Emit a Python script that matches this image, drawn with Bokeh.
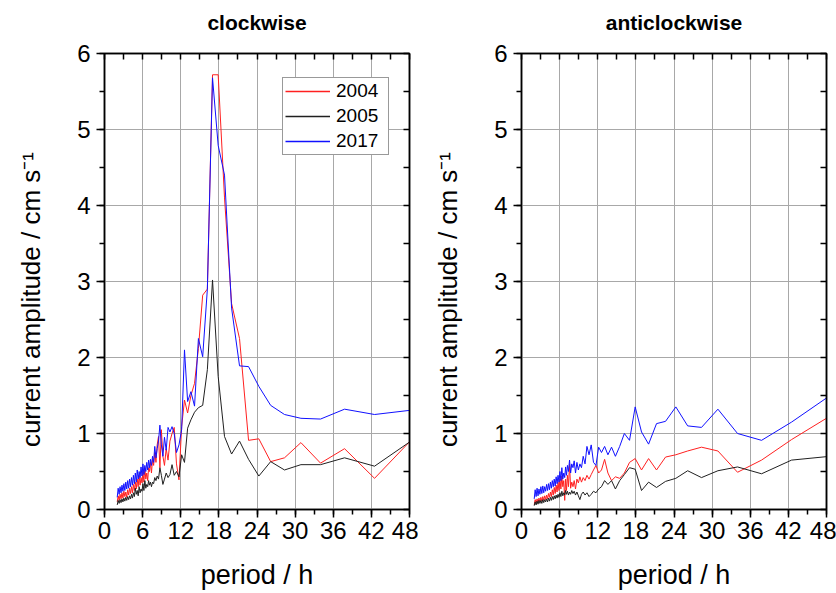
from bokeh.plotting import figure
from bokeh.models import (Range1d, LinearAxis, SingleIntervalTicker, FixedTicker,
                          Legend, LegendItem)
from bokeh.layouts import row
from bokeh.embed import file_html
from bokeh.resources import INLINE

# ---------------- data ----------------
period_dense = [2.0, 2.15, 2.3, 2.45, 2.6, 2.75, 2.9, 3.05, 3.2, 3.35,
                3.5, 3.65, 3.8, 3.95, 4.1, 4.25, 4.4, 4.55, 4.7, 4.85,
                5.0, 5.15, 5.3, 5.45, 5.6, 5.75, 5.9, 6.05, 6.2, 6.35,
                6.5, 6.65]
period_sparse = [6.8, 6.94, 7.08, 7.23, 7.39, 7.56, 7.73, 7.91, 8.1, 8.29,
                 8.5, 8.72, 8.95, 9.19, 9.44, 9.71, 10.0, 10.3, 10.63, 10.97,
                 11.33, 11.72, 12.14, 12.59, 13.08, 13.6, 14.17, 14.78, 15.45, 16.19,
                 17.0, 17.89, 18.89, 20.0, 21.25, 22.67, 24.29, 26.15, 28.33, 30.91,
                 34.0, 37.78, 42.5, 48.57]
period = period_dense + period_sparse

# clockwise
cw_2004 = [0.10, 0.18, 0.12, 0.20, 0.14, 0.22, 0.15, 0.24, 0.17, 0.23,
           0.16, 0.26, 0.19, 0.28, 0.21, 0.30, 0.22, 0.33, 0.25, 0.36,
           0.27, 0.40, 0.30, 0.45, 0.32, 0.42, 0.35, 0.50, 0.36, 0.55,
           0.40, 0.48] + \
          [0.38, 0.55, 0.50, 0.62, 0.48, 0.66, 0.58, 0.75, 0.62, 0.85,
           0.96, 0.55, 1.05, 0.70, 0.58, 0.80, 0.65, 0.90, 1.00, 1.08,
           0.60, 0.39, 1.09, 1.44, 1.27, 1.50, 1.66, 2.12, 2.82, 2.90,
           5.72, 5.72, 4.10, 2.71, 2.25, 0.91, 0.93, 0.63, 0.68, 0.88,
           0.61, 0.80, 0.41, 0.94]
cw_2005 = [0.06, 0.12, 0.08, 0.13, 0.09, 0.14, 0.10, 0.15, 0.11, 0.16,
           0.12, 0.17, 0.13, 0.18, 0.14, 0.20, 0.15, 0.22, 0.17, 0.28,
           0.20, 0.25, 0.18, 0.30, 0.22, 0.27, 0.24, 0.34, 0.25, 0.38,
           0.28, 0.33] + \
          [0.30, 0.38, 0.32, 0.36, 0.30, 0.36, 0.34, 0.42, 0.38, 0.44,
           0.40, 0.55, 0.45, 0.33, 0.40, 0.48, 0.42, 0.46, 0.59, 0.45,
           0.50, 0.43, 0.72, 0.62, 1.07, 1.18, 1.28, 1.34, 1.37, 1.84,
           3.02, 1.75, 0.96, 0.73, 0.90, 0.66, 0.44, 0.63, 0.52, 0.59,
           0.59, 0.68, 0.57, 0.92]
cw_2017 = [0.16, 0.28, 0.20, 0.30, 0.22, 0.32, 0.24, 0.34, 0.25, 0.36,
           0.27, 0.38, 0.28, 0.40, 0.30, 0.42, 0.32, 0.45, 0.34, 0.48,
           0.36, 0.52, 0.40, 0.50, 0.42, 0.56, 0.44, 0.60, 0.46, 0.58,
           0.50, 0.62] + \
          [0.52, 0.65, 0.55, 0.66, 0.58, 0.70, 0.62, 0.83, 0.68, 0.80,
           0.90, 1.11, 0.85, 0.70, 0.95, 0.78, 1.08, 1.02, 1.09, 1.00,
           0.75, 0.85, 1.05, 2.10, 1.42, 1.55, 1.36, 2.25, 2.01, 2.90,
           5.68, 4.79, 4.40, 2.65, 1.89, 1.88, 1.62, 1.37, 1.25, 1.20,
           1.19, 1.32, 1.25, 1.31]

# anticlockwise
acw_2004 = [0.06, 0.13, 0.08, 0.14, 0.09, 0.15, 0.10, 0.16, 0.11, 0.17,
            0.12, 0.18, 0.13, 0.19, 0.14, 0.21, 0.16, 0.23, 0.17, 0.26,
            0.19, 0.29, 0.21, 0.32, 0.23, 0.36, 0.25, 0.40, 0.27, 0.44,
            0.30, 0.38] + \
           [0.12, 0.40, 0.25, 0.45, 0.30, 0.60, 0.28, 0.36, 0.30, 0.38,
            0.27, 0.40, 0.35, 0.43, 0.36, 0.42, 0.38, 0.45, 0.40, 0.46,
            0.52, 0.58, 0.48, 0.52, 0.66, 0.48, 0.38, 0.43, 0.41, 0.48,
            0.62, 0.67, 0.52, 0.67, 0.52, 0.69, 0.72, 0.77, 0.82, 0.77,
            0.49, 0.65, 0.92, 1.23]
acw_2005 = [0.05, 0.10, 0.06, 0.11, 0.07, 0.12, 0.08, 0.12, 0.08, 0.13,
            0.09, 0.13, 0.10, 0.14, 0.10, 0.15, 0.11, 0.16, 0.12, 0.17,
            0.13, 0.18, 0.14, 0.19, 0.15, 0.20, 0.16, 0.22, 0.17, 0.24,
            0.18, 0.22] + \
           [0.19, 0.25, 0.20, 0.24, 0.19, 0.23, 0.20, 0.25, 0.21, 0.24,
            0.19, 0.23, 0.18, 0.13, 0.20, 0.23, 0.19, 0.22, 0.17, 0.20,
            0.24, 0.22, 0.27, 0.30, 0.38, 0.33, 0.38, 0.27, 0.38, 0.46,
            0.55, 0.53, 0.25, 0.36, 0.29, 0.37, 0.41, 0.51, 0.42, 0.51,
            0.56, 0.47, 0.65, 0.70]
acw_2017 = [0.14, 0.26, 0.17, 0.28, 0.18, 0.27, 0.20, 0.30, 0.21, 0.31,
            0.22, 0.30, 0.24, 0.33, 0.25, 0.34, 0.26, 0.36, 0.28, 0.38,
            0.30, 0.40, 0.31, 0.43, 0.34, 0.45, 0.36, 0.50, 0.38, 0.55,
            0.40, 0.48] + \
           [0.42, 0.56, 0.45, 0.58, 0.50, 0.65, 0.48, 0.60, 0.55, 0.64,
            0.48, 0.62, 0.52, 0.60, 0.55, 0.70, 0.60, 0.83, 0.72, 0.85,
            0.62, 0.58, 0.82, 0.75, 0.83, 0.72, 0.82, 0.70, 0.83, 1.00,
            0.91, 1.35, 1.02, 0.86, 1.13, 1.16, 1.35, 1.10, 1.08, 1.32,
            1.00, 0.91, 1.15, 1.50]

years = ["2004", "2005", "2017"]
colors = ["#ff2020", "#202020", "#1010ff"]
x_ticks_interval = 6
y_ticks_interval = 1

FONT = "Liberation Sans"


def make_panel(title, series, border_left, border_right, legend):
    p = figure(width=418, height=593, x_range=Range1d(0, 48), y_range=Range1d(0, 6),
               output_backend="svg", toolbar_location=None, title=None,
               min_border_left=border_left, min_border_right=border_right,
               min_border_top=53, min_border_bottom=84)

    xt = SingleIntervalTicker(interval=x_ticks_interval, num_minor_ticks=2)
    yt = SingleIntervalTicker(interval=y_ticks_interval, num_minor_ticks=2)

    bx = p.below[0]
    ly = p.left[0]
    bx.ticker = xt
    ly.ticker = yt
    for ax in (bx, ly):
        ax.axis_line_width = 1.5
        ax.axis_line_color = "black"
        ax.major_tick_line_width = 1.5
        ax.minor_tick_line_width = 1.5
        ax.major_tick_out = 8
        ax.major_tick_in = 0
        ax.minor_tick_out = 5
        ax.minor_tick_in = 0
        ax.major_label_text_font = FONT
        ax.major_label_text_font_size = "24px"
        ax.major_label_text_color = "black"
        ax.axis_label_text_font = FONT
        ax.axis_label_text_font_size = "26px"
        ax.axis_label_text_font_style = "normal"
        ax.axis_label_text_color = "black"
    bx.axis_label = "period / h"
    bx.axis_label_text_font_size = "27px"
    bx.major_label_standoff = 4
    bx.axis_label_standoff = 18
    ly.axis_label = "current amplitude / cm s\u207b\u00b9" + "\u00a0" * 5
    ly.major_label_standoff = 6
    ly.axis_label_standoff = 28

    # mirrored frame ticks (top / right), no tick labels; the top one carries the panel title
    top = LinearAxis(ticker=FixedTicker(ticks=[], minor_ticks=list(range(0, 49, 3))))
    right = LinearAxis(ticker=FixedTicker(ticks=[], minor_ticks=[i * 0.5 for i in range(13)]))
    for ax in (top, right):
        ax.axis_line_width = 1.5
        ax.axis_line_color = "black"
        ax.minor_tick_line_width = 1.5
        ax.minor_tick_out = 0
        ax.minor_tick_in = 6
        ax.major_tick_out = 0
        ax.major_tick_in = 0
        ax.major_label_standoff = 0
    top.axis_label = title
    top.axis_label_text_font = FONT
    top.axis_label_text_font_size = "21px"
    top.axis_label_text_font_style = "bold"
    top.axis_label_text_color = "black"
    top.axis_label_standoff = 20
    p.add_layout(top, "above")
    p.add_layout(right, "right")

    p.xgrid.ticker = xt
    p.ygrid.ticker = yt
    p.xgrid.grid_line_color = "#a8a8a8"
    p.ygrid.grid_line_color = "#a8a8a8"
    p.xgrid.grid_line_width = 1
    p.ygrid.grid_line_width = 1
    p.outline_line_color = "black"
    p.outline_line_width = 1.5

    items = []
    for yr, vals, col in zip(years, series, colors):
        p.line(period, vals, line_color=col, line_width=1)
        if legend:
            # hidden copy of the series, used only as the legend key
            key = p.line(period, vals, line_color=col, line_width=1.5, visible=False)
            items.append(LegendItem(label=yr, renderers=[key]))

    if legend:
        lg = Legend(items=items, location=(178, 354))
        lg.margin = 0
        lg.padding = 2
        lg.spacing = 3
        lg.glyph_width = 45
        lg.glyph_height = 18
        lg.label_height = 18
        lg.label_width = 50
        lg.label_standoff = 6
        lg.label_text_font = FONT
        lg.label_text_font_size = "19px"
        lg.label_text_color = "black"
        lg.border_line_color = "#333333"
        lg.border_line_width = 1
        lg.background_fill_alpha = 1
        p.add_layout(lg, "center")
    return p


p1 = make_panel("clockwise", [cw_2004, cw_2005, cw_2017], 104, 9, True)
p2 = make_panel("anticlockwise", [acw_2004, acw_2005, acw_2017], 103, 10, False)

layout = row(p1, p2)
open("out.html", "w").write(file_html(layout, INLINE))
